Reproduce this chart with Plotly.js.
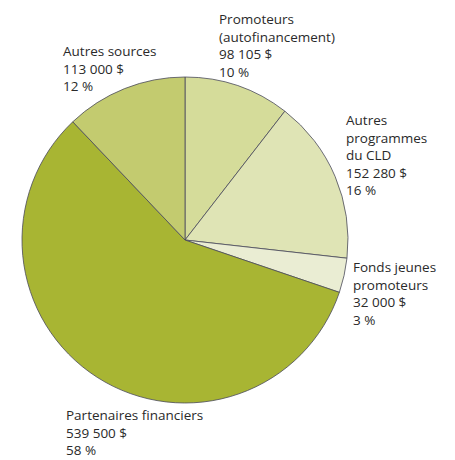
<!DOCTYPE html>
<html>
<head>
<meta charset="utf-8">
<script src="https://cdn.plot.ly/plotly-3.0.1.min.js"></script>
<style>html,body{margin:0;padding:0;background:#fff;}#chart{width:455px;height:460px;}</style>
</head>
<body>
<div id="chart"></div>
<script>
// Data
const categories = ["Promoteurs (autofinancement)", "Autres programmes du CLD", "Fonds jeunes promoteurs", "Partenaires financiers", "Autres sources"];
const labelLines = [["Promoteurs", "(autofinancement)"], ["Autres", "programmes", "du CLD"], ["Fonds jeunes", "promoteurs"], ["Partenaires financiers"], ["Autres sources"]];
const amounts = [98105, 152280, 32000, 539500, 113000];
const percents = [10, 16, 3, 58, 12];
const colors = ["#d5dc9a", "#dfe4b5", "#eaedd3", "#a8b533", "#c3cb6f"];

// Label placement (px, from top-left)
const labelPos = [[217, 8], [344, 109], [351, 256], [64, 404], [61, 40]];

const W = 455, H = 460;
function fmt(v) { return v.toString().replace(/\B(?=(\d{3})+(?!\d))/g, " ") + " $"; }

const annotations = categories.map((c, i) => ({
  xref: "paper", yref: "paper",
  x: labelPos[i][0] / W, y: 1 - labelPos[i][1] / H,
  xanchor: "left", yanchor: "top", align: "left",
  showarrow: false,
  text: labelLines[i].join("<br>") + "<br>" + fmt(amounts[i]) + "<br>" + percents[i] + " %",
  font: {family: "Open Sans", size: 13.5, color: "#2a2a2a"}
}));

const trace = {
  type: "pie",
  labels: categories,
  values: amounts,
  sort: false,
  direction: "clockwise",
  rotation: 0,
  textinfo: "none",
  hoverinfo: "label+value+percent",
  marker: {colors: colors, line: {color: "#4a4a5a", width: 0.8}},
  domain: {x: [22 / W, 348 / W], y: [57 / H, 383 / H]},
  showlegend: false
};

const layout = {
  width: W, height: H,
  margin: {l: 0, r: 0, t: 0, b: 0},
  paper_bgcolor: "#ffffff",
  showlegend: false,
  annotations: annotations
};

Plotly.newPlot("chart", [trace], layout, {displayModeBar: false, staticPlot: true});
</script>
</body>
</html>
